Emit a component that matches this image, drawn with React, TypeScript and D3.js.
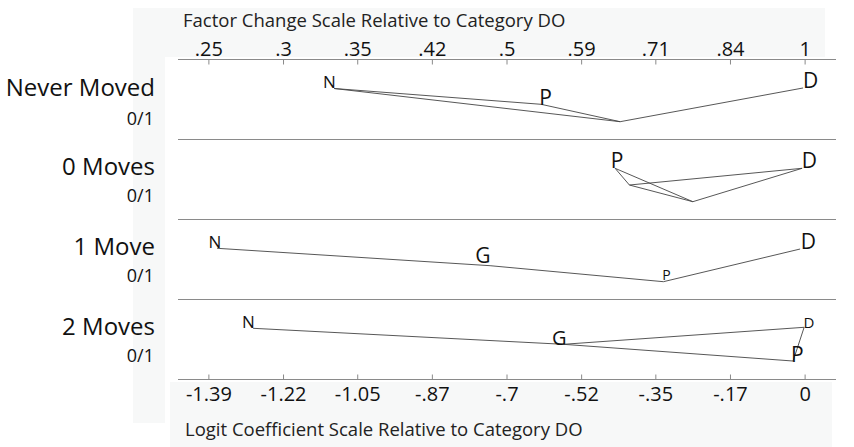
import React from "react";
import * as d3 from "d3";

// ---------- data ----------
const categories = ["Never Moved", "0 Moves", "1 Move", "2 Moves"];
const baseLabels = ["0/1", "0/1", "0/1", "0/1"];

// logit coefficient tick values (relative to DO) and their labels
const tickLogit = [-1.39, -1.216, -1.043, -0.869, -0.695, -0.521, -0.348, -0.174, 0];
const tickLogitLabels = ["-1.39", "-1.22", "-1.05", "-.87", "-.7", "-.52", "-.35", "-.17", "0"];
const tickFactorLabels = [".25", ".3", ".35", ".42", ".5", ".59", ".71", ".84", "1"];

// letter markers: row index, letter, logit position, vertical offset (fraction of row)
const letterRow = [0, 0, 0, 1, 1, 2, 2, 2, 2, 3, 3, 3, 3];
const letterText = ["N", "P", "D", "P", "D", "N", "G", "P", "D", "N", "G", "D", "P"];
const letterB = [-1.124, -0.62, -0.005, -0.453, -0.008, -1.391, -0.769, -0.333, -0.01, -1.313, -0.59, -0.004, -0.033];
const letterV = [0.36, 0.5625, 0.36, 0.3525, 0.36, 0.3525, 0.5475, 0.756, 0.369, 0.3525, 0.569, 0.36, 0.7775];

// connecting lines: row index, and vertices [logit, vertical fraction]
const pathRow = [0, 0, 1, 1, 1, 2, 3];
const pathPoints: [number, number][][] = [
  [[-1.098, 0.3625], [-0.6155, 0.56], [-0.4313, 0.7775], [-0.0047, 0.356]],
  [[-1.098, 0.3625], [-0.4313, 0.7775]],
  [[-0.443, 0.36], [-0.4096, 0.569], [-0.007, 0.36]],
  [[-0.443, 0.36], [-0.2618, 0.7775], [-0.007, 0.36]],
  [[-0.4096, 0.569], [-0.2618, 0.7775]],
  [[-1.3708, 0.36], [-0.7344, 0.5775], [-0.3303, 0.7775], [-0.0117, 0.369]],
  [[-1.2869, 0.36], [-0.5635, 0.56], [-0.0023, 0.3475], [-0.028, 0.769], [-0.5635, 0.56]],
];

// ---------- styles ----------
const letterSize = [17, 21, 21, 21, 21, 17, 21, 14, 21, 17, 20, 15, 21];
const FONT = "'Open Sans', sans-serif";
const W = 854;
const H = 447;

export default function App() {
  const x = d3.scaleLinear().domain([-1.462, 0.072]).range([178, 836]);
  const rowTop = d3.scaleLinear().domain([0, 4]).range([59.5, 379.5]);
  const rowH = rowTop(1) - rowTop(0);
  const yIn = (row: number, v: number) => rowTop(row) + v * rowH;
  const line = d3.line<[number, number]>().x((d) => x(d[0]));

  const bg = "#f7f8f8";
  return (
    <div style={{ position: "absolute", left: 0, top: 0 }}>
      <svg width={W} height={H} style={{ display: "block", background: "#fff" }}>
        {/* faint backgrounds */}
        <rect x={133} y={8} width={692} height={49} fill={bg} />
        <rect x={133} y={8} width={32} height={415} fill={bg} />
        <rect x={170} y={382} width={662} height={65} fill={bg} />
        <rect x={178} y={59.5} width={658} height={320} fill="#fff" />

        {/* titles */}
        <text x={183} y={26.5} fontFamily={FONT} fontSize={18.5} fill="#222">
          Factor Change Scale Relative to Category DO
        </text>
        <text x={185} y={435.5} fontFamily={FONT} fontSize={18.5} fill="#222">
          Logit Coefficient Scale Relative to Category DO
        </text>

        {/* axis lines & separators */}
        {d3.range(5).map((i) => (
          <line
            key={"sep" + i}
            x1={178}
            x2={836}
            y1={rowTop(i)}
            y2={rowTop(i)}
            stroke="#8a8a8a"
            strokeWidth={1.2}
          />
        ))}

        {/* ticks */}
        {tickLogit.map((t, i) => (
          <g key={"t" + i}>
            <line x1={x(t)} x2={x(t)} y1={rowTop(0)} y2={rowTop(0) + 5} stroke="#8a8a8a" strokeWidth={1} />
            <line x1={x(t)} x2={x(t)} y1={rowTop(4)} y2={rowTop(4) - 5} stroke="#8a8a8a" strokeWidth={1} />
            <text x={x(t)} y={56} textAnchor="middle" fontFamily={FONT} fontSize={20} fill="#111">
              {tickFactorLabels[i]}
            </text>
            <text x={x(t)} y={401} textAnchor="middle" fontFamily={FONT} fontSize={20} fill="#111">
              {tickLogitLabels[i]}
            </text>
          </g>
        ))}

        {/* row labels */}
        {categories.map((c, i) => (
          <g key={"c" + i}>
            <text
              x={155}
              y={i === 0 ? 96 : rowTop(i) + 35}
              textAnchor="end"
              fontFamily={FONT}
              fontSize={24}
              fill="#111"
            >
              {c}
            </text>
            <text
              x={154}
              y={i === 0 ? 125 : rowTop(i) + 62}
              textAnchor="end"
              fontFamily={FONT}
              fontSize={18}
              fill="#111"
            >
              {baseLabels[i]}
            </text>
          </g>
        ))}

        {/* connecting lines */}
        {pathPoints.map((pts, i) => (
          <path
            key={"p" + i}
            d={line.y((d) => yIn(pathRow[i], d[1]))(pts) || ""}
            fill="none"
            stroke="#444"
            strokeWidth={0.9}
          />
        ))}

        {/* letters */}
        {letterText.map((l, i) => (
          <text
            key={"l" + i}
            x={x(letterB[i])}
            y={yIn(letterRow[i], letterV[i])}
            fontFamily={FONT}
            fontSize={letterSize[i]}
            fill="#111"
          >
            {l}
          </text>
        ))}
      </svg>
    </div>
  );
}
